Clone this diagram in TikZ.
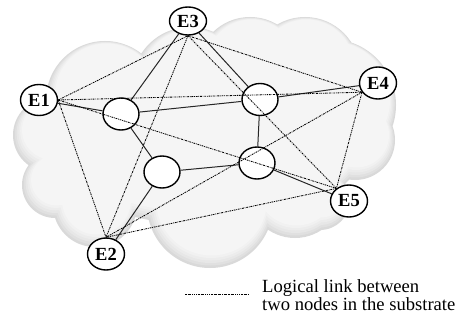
\documentclass[tikz,border=0pt]{standalone}
\usepackage{fontspec}
\setmainfont{Liberation Serif}
\usetikzlibrary{shapes.geometric}

% lobes of the substrate cloud: centre x / centre y / radius
\newcommand\cloudlobes{105/100/59, 50/135/37, 55/185/33, 95/205/42, 210/205/63,
  295/190/48, 320/200/30, 330/105/66, 355/140/40, 190/85/58, 250/70/53, 305/72/55}
% one layer of the cloud: #1 shrink, #2 x shift, #3 y shift
\newcommand\cloudlayer[4]{%
  \fill[#4] \foreach \cx/\cy/\r in \cloudlobes {(\cx+#2,\cy+#3) circle ({\r pt-#1pt})}
    (205+#2,145+#3) ellipse [x radius={160pt-#1pt}, y radius={80pt-#1pt}];}

\begin{document}
\begin{tikzpicture}[x=1pt,y=-1pt,
  enode/.style={ellipse,draw=black,line width=1.4pt,fill=white,
    minimum width=37pt,minimum height=31pt,inner sep=0pt,
    font=\fontsize{18.5}{18.5}\selectfont\bfseries},
  snode/.style={ellipse,draw=black,line width=1.4pt,fill=white,
    minimum width=36pt,minimum height=32pt,inner sep=0pt},
  phys/.style={draw=black!85,line width=1pt},
  logic/.style={draw=black,line width=0.85pt,
    dash pattern=on 1.8pt off 0.9pt on 0.7pt off 0.9pt},
  legendtext/.style={anchor=base west,inner sep=0pt,
    font=\fontsize{18.6}{20}\selectfont}]
\useasboundingbox (0,0) rectangle (462,321);

% substrate cloud, shaded towards its lower edges
\cloudlayer{0}{0}{0}{gray!30}
\cloudlayer{1.5}{0.3}{-1}{gray!24}
\cloudlayer{3}{0.6}{-2}{gray!19}
\cloudlayer{4.5}{0.9}{-3}{gray!15}
\cloudlayer{6}{1.2}{-4}{gray!11}
\cloudlayer{7.5}{1.5}{-5}{gray!8}

% substrate nodes
\node[snode] (n1) at (121,114) {};
\node[snode] (n2) at (260,99.5) {};
\node[snode] (n3) at (162,172) {};
\node[snode] (n4) at (257,163) {};

% end nodes
\node[enode] (e1) at (39,100) {E1};
\node[enode,minimum height=28pt] (e3) at (188,21) {E3};
\node[enode,minimum height=32pt] (e4) at (378,83) {E4};
\node[enode,minimum height=32pt] (e2) at (106,254) {E2};
\node[enode,minimum height=32pt] (e5) at (349,201) {E5};

% physical links
\draw[phys] (e1) -- (n1);
\draw[phys] (n1) -- (e3);
\draw[phys] (n1) -- (n2);
\draw[phys] (e3) -- (n2);
\draw[phys] (n2) -- (e4);
\draw[phys] (n2) -- (n4);
\draw[phys] (n1) -- (n3);
\draw[phys] (n3) -- (e2);
\draw[phys] (n3) -- (n4);
\draw[phys] (n4) -- (e5);

% logical links between every pair of end nodes
\coordinate (l1) at (e1.east);
\coordinate (l3) at (e3.south);
\coordinate (l4) at (e4.210);
\coordinate (l5) at (e5.135);
\coordinate (l2) at (e2.north);
\draw[logic] (l1) -- (l3);
\draw[logic] (l1) -- (l4);
\draw[logic] (l1) -- (l5);
\draw[logic] (l1) -- (l2);
\draw[logic] (l3) -- (l4);
\draw[logic] (l3) -- (l5);
\draw[logic] (l3) -- (l2);
\draw[logic] (l4) -- (l5);
\draw[logic] (l4) -- (l2);
\draw[logic] (l5) -- (l2);

% legend
\coordinate (ka) at (185,294);
\coordinate (kb) at (249,294);
\draw[logic] (ka) -- (kb);
\node[legendtext] (leg1) at (262,292) {Logical link between};
\node[legendtext] (leg2) at (262,310) {two nodes in the substrate};
\end{tikzpicture}
\end{document}
